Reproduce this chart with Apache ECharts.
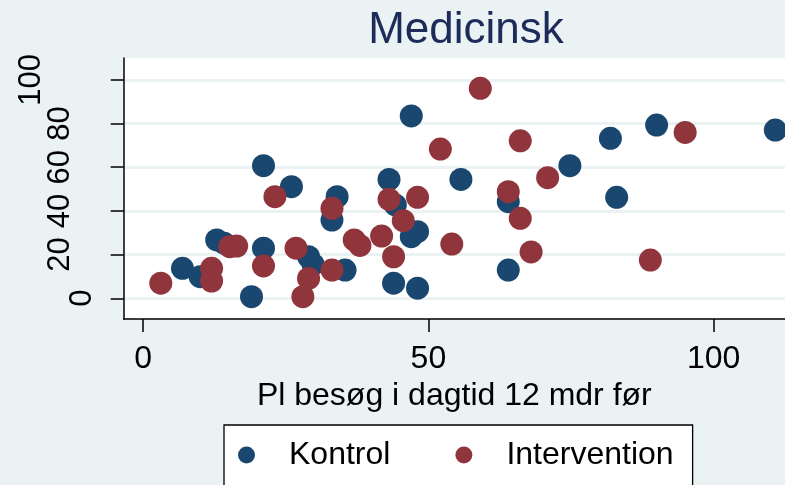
<!DOCTYPE html>
<html>
<head>
<meta charset="utf-8">
<script src="https://cdn.jsdelivr.net/npm/echarts@6/dist/echarts.min.js"></script>
<style>html,body{margin:0;padding:0;background:#EAF2F3;}#c{width:785px;height:485px;}</style>
</head>
<body>
<div id="c"></div>
<script>
const titleText = 'Medicinsk';
const xAxisName = 'Pl besøg i dagtid 12 mdr før';
const seriesNames = ['Kontrol', 'Intervention'];
const xTicks = [0, 50, 100];
const yTicks = [0, 20, 40, 60, 80, 100];
const kontrol = [
  [6.9,13.7],[10.0,9.9],[12.9,26.7],[14.2,25.2],[19.0,0.7],[21.1,22.9],[21.1,60.7],
  [26.0,51.1],[29.0,19.0],[29.8,15.5],[33.1,35.8],[34.0,46.5],[35.4,12.9],[43.1,54.4],
  [44.2,42.7],[43.9,6.9],[47.0,83.5],[47.0,28.2],[48.1,30.5],[48.1,4.6],[55.7,54.4],
  [64.0,44.2],[64.0,12.9],[74.8,60.7],[81.9,73.2],[83.0,46.2],[90.0,79.3],[110.8,77.0]
];
const intervention = [
  [3.1,6.9],[12.0,13.7],[12.0,7.9],[15.2,23.6],[16.4,23.9],[21.1,14.8],[23.1,46.5],
  [26.8,22.9],[28.0,0.7],[29.0,9.1],[33.1,41.2],[33.1,12.9],[37.0,26.7],[38.0,24.2],
  [41.8,28.5],[43.1,45.3],[43.9,19.0],[45.6,35.5],[48.1,46.2],[52.1,68.3],[54.1,24.8],
  [59.1,96.1],[64.0,48.8],[66.1,72.1],[66.1,36.6],[68.0,21.2],[70.9,55.2],[88.9,17.5],[95.0,75.9]
];

const chart = echarts.init(document.getElementById('c'), null, {renderer: 'canvas'});
const FONT = 'Liberation Sans, Arial, sans-serif';
const NARROW = 'Liberation Sans Narrow, Arial Narrow, Liberation Sans, sans-serif';
const yMin = -9.5, yMax = 110;
function yAxisBase(extra) {
  return Object.assign({
    type: 'value', min: yMin, max: yMax, position: 'left', gridIndex: 0,
    axisLine: {show: false}, axisTick: {show: false}, splitLine: {show: false}
  }, extra);
}
chart.setOption({
  backgroundColor: '#EAF2F3',
  animation: false,
  title: {
    text: titleText, left: 461, top: 4, textAlign: 'center',
    textStyle: {fontFamily: FONT, fontSize: 44, fontWeight: 'normal', color: '#1c2b5a'}
  },
  grid: {left: 123.7, right: 0, top: 58, bottom: 166, show: true, backgroundColor: '#ffffff', borderWidth: 0},
  legend: {
    data: seriesNames, left: 224, top: 425, orient: 'horizontal',
    icon: 'circle', itemWidth: 17, itemHeight: 17, itemGap: 65,
    padding: [14, 19, 30, 14],
    backgroundColor: '#ffffff', borderColor: '#000000', borderWidth: 1.3, borderRadius: 0,
    textStyle: {fontFamily: FONT, fontSize: 32, color: '#000', padding: [4, 0, 0, 29]}
  },
  xAxis: {
    type: 'value', min: -3.4, max: 112.5,
    name: xAxisName, nameLocation: 'middle', nameGap: 53,
    nameTextStyle: {fontFamily: FONT, fontSize: 32, color: '#000'},
    axisLine: {show: true, onZero: false, lineStyle: {color: '#000', width: 1.5}},
    axisTick: {show: true, length: 13, inside: false, customValues: xTicks, lineStyle: {color: '#000', width: 1.5}},
    axisLabel: {customValues: xTicks, margin: 24, fontFamily: FONT, fontSize: 32, color: '#000'},
    splitLine: {show: false}
  },
  yAxis: [
    {
      type: 'value', min: yMin, max: yMax, position: 'left',
      axisLine: {show: true, onZero: false, lineStyle: {color: '#000', width: 1.5}},
      axisTick: {show: true, length: 13, customValues: yTicks, lineStyle: {color: '#000', width: 1.5}},
      axisLabel: {customValues: [20, 40, 60, 80], rotate: 90, margin: 48, fontFamily: NARROW, fontSize: 31, color: '#000'},
      splitLine: {show: true, lineStyle: {color: '#EAF2F3', width: 3}}
    },
    yAxisBase({axisLabel: {customValues: [0], rotate: 90, margin: 26, fontFamily: NARROW, fontSize: 31, color: '#000'}}),
    yAxisBase({axisLabel: {customValues: [100], rotate: 90, margin: 77, fontFamily: NARROW, fontSize: 31, color: '#000'}})
  ],
  series: [
    {name: seriesNames[0], type: 'scatter', data: kontrol, symbolSize: 23, itemStyle: {color: '#1a476f', opacity: 1}},
    {name: seriesNames[1], type: 'scatter', data: intervention, symbolSize: 23, itemStyle: {color: '#90353b', opacity: 1}}
  ]
});
</script>
</body>
</html>
